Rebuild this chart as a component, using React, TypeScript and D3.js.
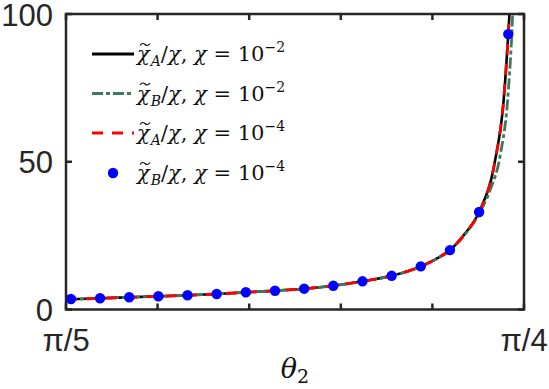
import * as d3 from "d3";
import React, { useEffect, useRef } from "react";

// blue markers (chi_B / chi, chi = 1e-4)
const dotTheta = [0.63, 0.64, 0.65, 0.66, 0.67, 0.68, 0.69, 0.7, 0.71, 0.72, 0.73, 0.74, 0.75, 0.76, 0.77, 0.78];
const dotVals = [3.55, 3.79, 4.13, 4.47, 4.81, 5.25, 5.82, 6.36, 7.04, 8.05, 9.54, 11.4, 14.6, 20.1, 33.0, 93.2];

// black solid / red dashed (chi_A / chi)
const aTheta = [0.6283, 0.64, 0.65, 0.66, 0.67, 0.68, 0.69, 0.7, 0.71, 0.72, 0.73, 0.74, 0.75, 0.755, 0.76, 0.765, 0.77, 0.7754, 0.7784, 0.78, 0.7804, 0.7809];
const aVals = [3.4, 3.79, 4.13, 4.47, 4.81, 5.25, 5.82, 6.36, 7.04, 8.05, 9.54, 11.4, 14.6, 17.0, 20.1, 25.5, 33.0, 50, 70.6, 93.2, 100, 115];

// green dash-dot (chi_B / chi, chi = 1e-2)
const bTheta = [0.6283, 0.64, 0.65, 0.66, 0.67, 0.68, 0.69, 0.7, 0.71, 0.72, 0.73, 0.74, 0.75, 0.755, 0.76, 0.765, 0.77, 0.774, 0.7772, 0.7801, 0.7815, 0.782];
const bVals = [3.4, 3.79, 4.13, 4.47, 4.81, 5.25, 5.82, 6.36, 7.04, 8.05, 9.54, 11.4, 14.5, 16.9, 20.0, 25.2, 32.5, 41, 52, 75, 100, 115];

const yTicks = [0, 50, 100];
const xTickLabels = ["π/5", "", "", "", "", "π/4"];
const legendSub = ["A", "B", "A", "B"];
const legendExp = ["−2", "−2", "−4", "−4"];

const W = 549;
const H = 389;

const App = () => {
	const svgRef = useRef(null);

	useEffect(() => {
		if (!svgRef.current) return;
		const svg = d3.select(svgRef.current);
		svg.selectAll("*").remove();

		const left = 66;
		const right = 524;
		const top = 14;
		const bottom = 309.5;
		const axisColor = "#262626";

		const x = d3.scaleLinear().domain([Math.PI / 5, Math.PI / 4]).range([left, right]);
		const y = d3.scaleLinear().domain([0, 100]).range([bottom, top]);

		svg
			.append("defs")
			.append("clipPath")
			.attr("id", "plotclip")
			.append("rect")
			.attr("x", left)
			.attr("y", top)
			.attr("width", right - left)
			.attr("height", bottom - top);

		const line = d3
			.line()
			.x((d) => x(d[0]))
			.y((d) => y(d[1]))
			.curve(d3.curveMonotoneX);

		const aData = aTheta.map((t, i) => [t, aVals[i]]);
		const bData = bTheta.map((t, i) => [t, bVals[i]]);

		const g = svg.append("g").attr("clip-path", "url(#plotclip)");

		g.append("path")
			.datum(aData)
			.attr("fill", "none")
			.attr("stroke", "#000")
			.attr("stroke-width", 2.6)
			.attr("d", line);

		g.append("path")
			.datum(bData)
			.attr("fill", "none")
			.attr("stroke", "#3d7a5a")
			.attr("stroke-width", 2.8)
			.attr("stroke-dasharray", "11,3,4,3")
			.attr("d", line);

		g.append("path")
			.datum(aData)
			.attr("fill", "none")
			.attr("stroke", "#ff0000")
			.attr("stroke-width", 2.8)
			.attr("stroke-dasharray", "11,9")
			.attr("d", line);

		g.selectAll("circle")
			.data(dotTheta.map((t, i) => [t, dotVals[i]]))
			.enter()
			.append("circle")
			.attr("cx", (d) => x(d[0]))
			.attr("cy", (d) => y(d[1]))
			.attr("r", 5.2)
			.attr("fill", "#0000ff");

		// axes box + inward ticks
		const xTicks = d3.range(6).map((i) => Math.PI / 5 + (i * (Math.PI / 20)) / 5);
		const tickLen = 6;
		const ax = svg.append("g").attr("stroke", axisColor).attr("stroke-width", 2.5);
		xTicks.forEach((t) => {
			ax.append("line").attr("x1", x(t)).attr("x2", x(t)).attr("y1", bottom).attr("y2", bottom - tickLen);
			ax.append("line").attr("x1", x(t)).attr("x2", x(t)).attr("y1", top).attr("y2", top + tickLen);
		});
		yTicks.forEach((v) => {
			ax.append("line").attr("x1", left).attr("x2", left + tickLen).attr("y1", y(v)).attr("y2", y(v));
			ax.append("line").attr("x1", right).attr("x2", right - tickLen).attr("y1", y(v)).attr("y2", y(v));
		});
		ax.append("rect")
			.attr("x", left)
			.attr("y", top)
			.attr("width", right - left)
			.attr("height", bottom - top)
			.attr("fill", "none")
			.attr("stroke-linejoin", "miter");

		const labelFont = "'Liberation Sans', Arial, sans-serif";

		svg
			.append("g")
			.selectAll("text")
			.data(yTicks)
			.enter()
			.append("text")
			.attr("x", left - 13)
			.attr("y", (d) => y(d) + 11.5)
			.attr("text-anchor", "end")
			.style("font-family", labelFont)
			.style("font-size", "31px")
			.style("fill", axisColor)
			.text((d) => d);

		svg
			.append("g")
			.selectAll("text")
			.data(xTicks.map((t, i) => [t, xTickLabels[i]]))
			.enter()
			.append("text")
			.attr("x", (d) => x(d[0]))
			.attr("y", bottom + 41)
			.attr("text-anchor", "middle")
			.style("font-family", labelFont)
			.style("font-size", "31px")
			.style("fill", axisColor)
			.text((d) => d[1]);

		const serif = "'DejaVu Serif', serif";

		const xl = svg
			.append("text")
			.attr("x", 295)
			.attr("y", 378)
			.attr("text-anchor", "middle")
			.style("font-family", serif)
			.style("font-size", "27px")
			.style("fill", "#111");
		xl.append("tspan").style("font-style", "italic").text("θ");
		xl.append("tspan").attr("dy", 5).style("font-size", "19px").text("2");

		// legend
		const legendY = [54, 93.5, 133, 173];
		const lg = svg.append("g");
		const styles = [
			{ stroke: "#000", dash: null },
			{ stroke: "#3d7a5a", dash: "11,3,4,3" },
			{ stroke: "#ff0000", dash: "11,9" },
		];
		styles.forEach((s, i) => {
			lg.append("line")
				.attr("x1", 92)
				.attr("x2", 134)
				.attr("y1", legendY[i])
				.attr("y2", legendY[i])
				.attr("stroke", s.stroke)
				.attr("stroke-width", 2.8)
				.attr("stroke-dasharray", s.dash);
		});
		lg.append("circle").attr("cx", 113).attr("cy", legendY[3]).attr("r", 5.2).attr("fill", "#0000ff");

		legendY.forEach((ly, i) => {
			const base = ly + 7;
			const t = lg
				.append("text")
				.attr("x", 137)
				.attr("y", base)
				.style("font-family", serif)
				.style("font-size", "21px")
				.style("fill", "#111");
			t.append("tspan").style("font-style", "italic").text("χ");
			t.append("tspan").attr("dx", 1).attr("dy", 5).style("font-style", "italic").style("font-size", "14px").text(legendSub[i]);
			t.append("tspan").attr("dy", -5).text("/");
			t.append("tspan").style("font-style", "italic").text("χ");
			t.append("tspan").text(", ");
			t.append("tspan").style("font-style", "italic").text("χ");
			t.append("tspan").text(" = 10");
			t.append("tspan").attr("dy", -9).style("font-size", "14px").text(legendExp[i]);

			// tilde accent over the first chi
			const tx = 140;
			const ty = base - 17;
			lg.append("path")
				.attr("d", `M${tx},${ty + 1.5} C${tx + 2},${ty - 1.5} ${tx + 4},${ty - 0.5} ${tx + 5},${ty + 0.5} S${tx + 8},${ty + 2.5} ${tx + 10},${ty - 0.5}`)
				.attr("fill", "none")
				.attr("stroke", "#111")
				.attr("stroke-width", 1.2);
		});
	}, []);

	return (
		<svg
			ref={svgRef}
			width={W}
			height={H}
			style={{ position: "absolute", left: 0, top: 0, background: "#fff" }}
		/>
	);
};

export default App;
